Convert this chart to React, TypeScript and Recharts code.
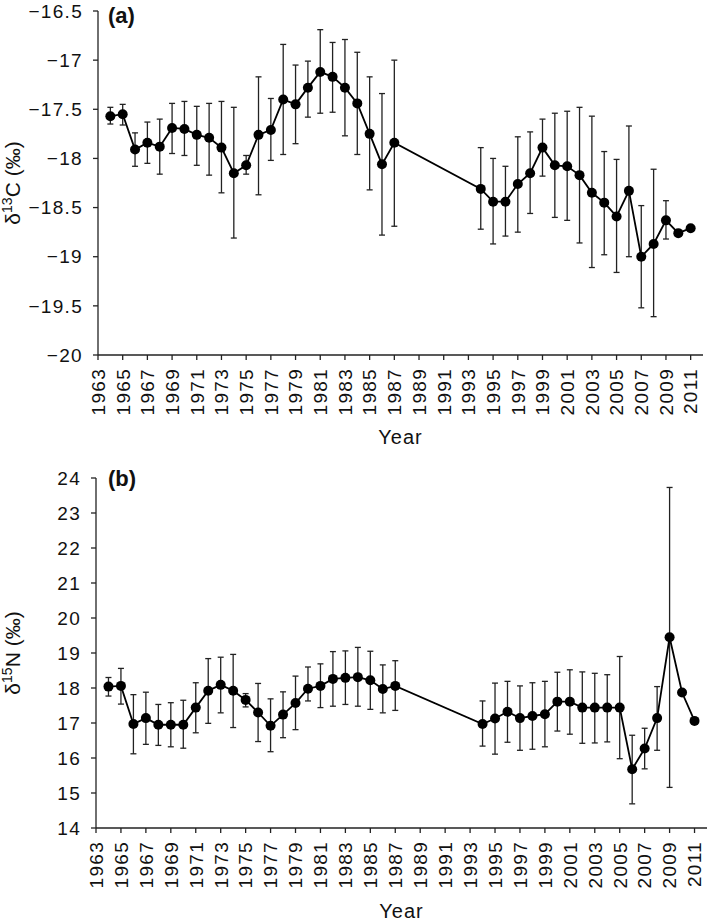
import { LineChart, Line, XAxis, YAxis, ErrorBar } from "recharts";

const years = [
  1964, 1965, 1966, 1967, 1968, 1969, 1970, 1971, 1972, 1973, 1974, 1975, 1976, 1977, 1978, 1979,
  1980, 1981, 1982, 1983, 1984, 1985, 1986, 1987,
  1994, 1995, 1996, 1997, 1998, 1999, 2000, 2001, 2002, 2003, 2004, 2005, 2006, 2007, 2008, 2009,
  2010, 2011,
];

const carbonMean = [
  -17.57, -17.55, -17.91, -17.84, -17.88, -17.69, -17.7, -17.76, -17.79, -17.89, -18.15, -18.07,
  -17.76, -17.71, -17.4, -17.45, -17.28, -17.12, -17.17, -17.28, -17.44, -17.75, -18.06, -17.84,
  -18.31, -18.44, -18.44, -18.26, -18.15, -17.89, -18.07, -18.08, -18.17, -18.35, -18.45, -18.59,
  -18.33, -19.0, -18.87, -18.63, -18.76, -18.71,
];
const carbonHigh = [
  -17.48, -17.45, -17.74, -17.63, -17.6, -17.44, -17.42, -17.47, -17.44, -17.42, -17.48, -17.97,
  -17.17, -17.39, -16.84, -17.05, -17.01, -16.69, -16.82, -16.79, -16.92, -17.17, -17.34, -17.0,
  -17.89, -18.0, -18.08, -17.78, -17.73, -17.6, -17.54, -17.52, -17.48, -17.57, -17.93, -18.01,
  -17.67, -18.48, -18.11, -18.43, -18.76, -18.71,
];
const carbonLow = [
  -17.65, -17.66, -18.08, -18.05, -18.16, -17.95, -17.97, -18.07, -18.17, -18.35, -18.81, -18.16,
  -18.37, -18.02, -17.96, -17.85, -17.58, -17.54, -17.53, -17.77, -17.96, -18.32, -18.78, -18.69,
  -18.72, -18.87, -18.79, -18.75, -18.56, -18.18, -18.6, -18.63, -18.86, -19.11, -18.98, -19.16,
  -19.0, -19.52, -19.61, -18.82, -18.76, -18.71,
];

const nitrogenMean = [
  18.04, 18.06, 16.97, 17.14, 16.95, 16.95, 16.95, 17.44, 17.92, 18.09, 17.92, 17.66, 17.3, 16.92,
  17.24, 17.57, 17.98, 18.06, 18.26, 18.29, 18.31, 18.22, 17.97, 18.06,
  16.97, 17.13, 17.32, 17.14, 17.2, 17.25, 17.61, 17.61, 17.44, 17.44, 17.44, 17.44, 15.68, 16.27,
  17.14, 19.45, 17.87, 17.06,
];
const nitrogenHigh = [
  18.3, 18.56, 17.81, 17.88, 17.53, 17.58, 17.65, 18.15, 18.84, 18.88, 18.96, 17.84, 18.13, 17.69,
  17.89, 18.34, 18.6, 18.69, 19.04, 19.06, 19.16, 19.05, 18.66, 18.78,
  17.63, 18.14, 18.19, 18.06, 18.15, 18.19, 18.45, 18.52, 18.46, 18.42, 18.38, 18.9, 16.65, 16.85,
  18.04, 23.73, 17.87, 17.06,
];
const nitrogenLow = [
  17.77, 17.54, 16.12, 16.39, 16.36, 16.32, 16.28, 16.72, 16.99, 17.29, 16.87, 17.46, 16.47, 16.18,
  16.58, 16.81, 17.63, 17.44, 17.48, 17.53, 17.48, 17.39, 17.29, 17.36,
  16.34, 16.11, 16.45, 16.22, 16.25, 16.32, 16.77, 16.68, 16.42, 16.43, 16.46, 15.98, 14.69, 15.69,
  16.22, 15.16, 17.87, 17.06,
];

const yearTicks = [
  1963, 1965, 1967, 1969, 1971, 1973, 1975, 1977, 1979, 1981, 1983, 1985, 1987, 1989, 1991, 1993,
  1995, 1997, 1999, 2001, 2003, 2005, 2007, 2009, 2011,
];
const carbonTicks = [-20, -19.5, -19, -18.5, -18, -17.5, -17, -16.5];
const nitrogenTicks = [14, 15, 16, 17, 18, 19, 20, 21, 22, 23, 24];

const FONT = "'Liberation Sans', Arial, sans-serif";
const AXIS = "#222";

function buildRows(mean: number[], high: number[], low: number[]) {
  return years.map((year, i) => ({
    year,
    value: mean[i],
    err: [mean[i] - low[i], high[i] - mean[i]],
  }));
}

const carbonRows = buildRows(carbonMean, carbonHigh, carbonLow);
const nitrogenRows = buildRows(nitrogenMean, nitrogenHigh, nitrogenLow);

function formatMinus(v: number): string {
  return v < 0 ? `\u2212${Math.abs(v)}` : `${v}`;
}

function YearTick(props: any) {
  const { x, y, payload } = props;
  return (
    <text
      x={x}
      y={y}
      dy="0.36em"
      transform={`rotate(-90 ${x} ${y})`}
      textAnchor="end"
      fontSize={19}
      letterSpacing={1.3}
      fill="#111"
      fontFamily={FONT}
    >
      {payload.value}
    </text>
  );
}

function YTitle({ viewBox, iso, el }: { viewBox?: any; iso: string; el: string }) {
  const cy = viewBox ? viewBox.y + viewBox.height / 2 : 0;
  const cx = 20;
  return (
    <text
      x={cx}
      y={cy}
      transform={`rotate(-90 ${cx} ${cy})`}
      textAnchor="middle"
      fontSize={21}
      fill="#111"
      fontFamily={FONT}
    >
      <tspan>δ</tspan>
      <tspan dy={-8} fontSize={14}>
        {iso}
      </tspan>
      <tspan dy={8}>{`${el} (‰)`}</tspan>
    </text>
  );
}

interface PanelProps {
  rows: { year: number; value: number; err: number[] }[];
  domain: [number, number];
  ticks: number[];
  iso: string;
  el: string;
  height: number;
  margin: { top: number; right: number; left: number; bottom: number };
  yWidth: number;
  xHeight: number;
  yearOffset: number;
  tag: string;
  tagTop: number;
}

function Panel(p: PanelProps) {
  return (
    <div style={{ position: "relative", width: 709, height: p.height }}>
      <LineChart width={709} height={p.height} data={p.rows} margin={p.margin}>
        <XAxis
          dataKey="year"
          type="number"
          domain={[1963, 2012]}
          ticks={yearTicks}
          interval={0}
          allowDataOverflow
          height={p.xHeight}
          tick={<YearTick />}
          tickSize={5}
          tickMargin={8}
          stroke={AXIS}
          strokeWidth={1.3}
          label={{
            value: "Year",
            position: "insideBottom",
            offset: p.yearOffset,
            fontSize: 20,
            letterSpacing: 1,
            fill: "#111",
            fontFamily: FONT,
          }}
        />
        <YAxis
          type="number"
          domain={p.domain}
          ticks={p.ticks}
          interval={0}
          allowDataOverflow
          width={p.yWidth}
          tickFormatter={formatMinus}
          tick={{ fontSize: 19, letterSpacing: 1.3, fill: "#111", fontFamily: FONT }}
          tickSize={5}
          tickMargin={10}
          stroke={AXIS}
          strokeWidth={1.3}
          label={{ content: (lp: any) => <YTitle viewBox={lp.viewBox} iso={p.iso} el={p.el} /> }}
        />
        <Line
          dataKey="value"
          type="linear"
          stroke="#000"
          strokeWidth={1.8}
          dot={{ r: 5, fill: "#000", stroke: "#000", strokeWidth: 0 }}
          activeDot={false}
          isAnimationActive={false}
        >
          <ErrorBar
            dataKey="err"
            direction="y"
            width={3}
            stroke={AXIS}
            strokeWidth={1.3}
            isAnimationActive={false}
          />
        </Line>
      </LineChart>
      <div
        style={{
          position: "absolute",
          left: 108,
          top: p.tagTop,
          fontFamily: FONT,
          fontWeight: "bold",
          fontSize: 22,
          lineHeight: "22px",
          color: "#111",
        }}
      >
        {p.tag}
      </div>
    </div>
  );
}

export default function App() {
  return (
    <div style={{ position: "absolute", left: 0, top: 0, width: 709, height: 921, background: "#fff" }}>
      <Panel
        rows={carbonRows}
        domain={[-20, -16.5]}
        ticks={carbonTicks}
        iso="13"
        el="C"
        height={450}
        margin={{ top: 11, right: 6, left: 0, bottom: 0 }}
        yWidth={98}
        xHeight={95}
        yearOffset={6}
        tag="(a)"
        tagTop={5}
      />
      <Panel
        rows={nitrogenRows}
        domain={[14, 24]}
        ticks={nitrogenTicks}
        iso="15"
        el="N"
        height={471}
        margin={{ top: 28, right: 2, left: 0, bottom: 0 }}
        yWidth={96}
        xHeight={93}
        yearOffset={3}
        tag="(b)"
        tagTop={18}
      />
    </div>
  );
}
